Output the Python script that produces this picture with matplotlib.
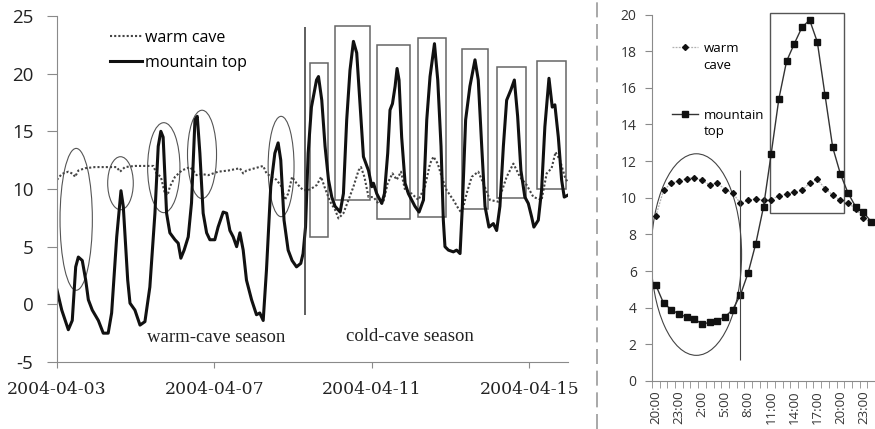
import numpy as np
import matplotlib
matplotlib.use("Agg")
import matplotlib.pyplot as plt
from matplotlib.patches import Ellipse, Rectangle
from matplotlib.lines import Line2D

plt.rcParams["axes.unicode_minus"] = False

# ---- left panel: hourly record, hours since 2004-04-03 00:00 ----
mt_hours = [0, 2.9, 6.9, 9.3, 11.4, 13.0, 15.4, 17.5, 19.1, 21.5,
            25.2, 28.2, 31.2, 33.3, 36.4, 39.0, 40.4, 43.1, 44.5, 47.5,
            50.6, 53.6, 56.6, 59.7, 61.7, 63.3, 64.7, 66.8, 68.8, 71.9,
            73.9, 75.5, 77.5, 80.0, 82.0, 84.1, 85.5, 87.1, 89.1, 91.2,
            93.2, 96.2, 98.2, 101.3, 103.4, 105.4, 107.4, 109.5, 111.5, 113.5,
            115.5, 118.6, 121.6, 123.6, 125.7, 127.7, 130.3, 132.8, 134.8, 136.4,
            138.4, 140.9, 143.3, 146.0, 148.6, 150.0, 151.5, 153.1, 155.1, 158.2,
            159.4, 161.4, 163.4, 165.5, 167.5, 169.5, 172.6, 174.6, 176.6, 178.6,
            180.7, 182.7, 184.7, 186.8, 189.9, 191.9, 192.9, 194.9, 196.9, 198.0,
            199.6, 201.6, 203.0, 204.5, 206.1, 207.3, 208.5, 210.1, 212.2, 214.2,
            216.2, 218.2, 220.7, 223.4, 225.4, 227.4, 230.1, 232.1, 234.1, 235.5,
            236.5, 238.6, 241.6, 243.6, 245.7, 247.1, 249.1, 251.7, 254.8, 256.8,
            258.9, 260.9, 263.3, 266.0, 268.0, 270.0, 272.1, 274.1, 276.7, 278.8,
            280.8, 282.8, 285.2, 287.3, 289.3, 290.7, 293.4, 295.4, 297.4, 299.9,
            301.9, 303.5, 305.6, 307.6, 309.2, 311.2]
mt_temp = [1.24, -0.5, -2.2, -1.4, 3.25, 4.1, 3.8, 2.1, 0.4, -0.5,
           -1.4, -2.5, -2.5, -0.75, 5.85, 9.85, 8.5, 2.1, 0.1, -0.5,
           -1.8, -1.5, 1.5, 7.9, 13.7, 15.0, 14.5, 7.9, 6.2, 5.6,
           5.3, 4.0, 4.7, 5.85, 8.8, 16.0, 16.3, 13.1, 7.9, 6.2,
           5.6, 5.6, 6.7, 8.0, 7.9, 6.4, 5.85, 5.0, 6.2, 4.7,
           2.1, 0.4, -0.9, -0.75, -1.4, 3.0, 10.2, 13.1, 14.0, 12.5,
           7.3, 4.7, 3.8, 3.25, 3.55, 4.4, 6.7, 13.1, 17.1, 19.45,
           19.75, 17.7, 13.7, 10.8, 9.3, 8.5, 8.0, 9.6, 16.0, 20.3,
           22.8, 21.8, 17.4, 12.8, 11.6, 10.2, 10.5, 9.6, 9.05, 8.75,
           9.6, 13.1, 16.85, 17.4, 18.9, 20.45, 19.45, 14.5, 10.5, 9.6,
           9.05, 8.5, 8.0, 9.05, 16.0, 19.75, 22.6, 19.45, 13.7, 7.3,
           5.0, 4.7, 4.55, 4.7, 4.4, 8.5, 16.0, 18.9, 21.2, 19.45,
           13.7, 8.5, 6.7, 7.0, 6.4, 8.5, 13.7, 17.7, 18.6, 19.45,
           16.3, 11.6, 9.3, 8.75, 7.6, 6.7, 7.3, 9.9, 15.4, 19.6,
           17.1, 17.3, 14.5, 10.8, 9.3, 9.45]

wc_hours = [0, 2.9, 6.9, 9.9, 11.0, 13.0, 17.1, 23.1, 29.2, 36.4,
            38.4, 41.4, 47.5, 53.6, 58.7, 60.7, 63.3, 65.8, 67.4, 68.8,
            71.9, 76.0, 81.0, 83.0, 85.1, 88.1, 92.2, 98.2, 104.3, 111.5,
            113.5, 115.5, 120.6, 125.7, 127.7, 130.8, 133.8, 136.9, 138.9, 140.9,
            143.3, 146.0, 150.0, 153.1, 155.3, 158.4, 161.0, 163.4, 166.5, 169.5,
            171.6, 174.6, 177.7, 180.7, 183.8, 185.3, 187.4, 189.9, 192.9, 195.9,
            199.0, 201.6, 204.5, 207.1, 209.7, 212.2, 216.2, 220.3, 224.3, 227.4,
            229.5, 232.1, 234.5, 237.5, 241.6, 244.7, 246.7, 249.7, 252.8, 256.8,
            259.9, 263.9, 269.0, 274.1, 278.2, 282.2, 286.3, 290.4, 295.4, 298.5,
            301.5, 303.9, 306.6, 309.6, 311.2]
wc_temp = [10.8, 11.3, 11.5, 11.3, 11.05, 11.6, 11.8, 11.9, 11.9, 11.9,
           11.5, 11.9, 12.0, 12.0, 12.0, 11.35, 11.05, 9.6, 9.45, 10.2,
           11.05, 11.6, 11.9, 11.6, 11.2, 11.3, 11.2, 11.5, 11.6, 11.8,
           11.35, 11.6, 11.8, 12.0, 11.35, 11.05, 10.8, 10.2, 9.05, 9.6,
           11.05, 10.5, 9.9, 9.9, 10.05, 10.35, 11.05, 10.05, 8.9, 8.2,
           7.45, 7.9, 9.05, 10.2, 11.6, 11.9, 11.05, 9.3, 9.3, 8.75,
           8.9, 10.5, 11.35, 10.8, 11.5, 9.9, 9.6, 9.05, 10.2, 12.2,
           12.8, 12.2, 11.05, 9.9, 9.05, 8.3, 7.9, 9.6, 11.05, 11.5,
           10.5, 9.05, 8.9, 11.05, 12.2, 11.05, 10.35, 9.3, 9.05, 11.35,
           11.8, 13.2, 12.5, 11.05, 10.6]

date_ticks = [0, 96, 192, 288]
date_labels = ["2004-04-03", "2004-04-07", "2004-04-11", "2004-04-15"]

# annotations on the left panel (centre x, centre y, width, height)
circles = [(11.7, 7.37, 19.7, 12.3), (38.7, 10.5, 15.6, 4.6),
           (65.1, 11.85, 19.7, 7.8), (88.4, 13.0, 17.7, 7.66),
           (136.6, 11.95, 15.8, 8.7)]
# boxes (x0, x1, y0, y1)
boxes = [(154.1, 165.5, 5.86, 20.9), (169.5, 190.8, 9.04, 24.13),
         (195.3, 215.4, 7.37, 22.5), (220.3, 236.9, 7.6, 23.06),
         (246.7, 262.5, 8.23, 22.1), (268.0, 285.9, 9.19, 20.55),
         (292.4, 310.0, 9.97, 21.1)]
season_split = 151.1

# ---- right panel: one day, hourly ----
hour_labels = ["20:00", "21:00", "22:00", "23:00", "0:00", "1:00", "2:00", "3:00",
               "4:00", "5:00", "6:00", "7:00", "8:00", "9:00", "10:00", "11:00",
               "12:00", "13:00", "14:00", "15:00", "16:00", "17:00", "18:00",
               "19:00", "20:00", "21:00", "22:00", "23:00", "0:00"]
day_warm = [9.0, 10.4, 10.8, 10.9, 11.05, 11.1, 10.95, 10.7, 10.8, 10.45,
            10.25, 9.7, 9.85, 9.95, 9.85, 9.9, 10.1, 10.2, 10.3, 10.4,
            10.8, 11.0, 10.5, 10.15, 9.85, 9.7, 9.4, 8.9, 8.65]
day_mount = [5.23, 4.25, 3.9, 3.65, 3.5, 3.4, 3.1, 3.2, 3.3, 3.5,
             3.9, 4.7, 5.9, 7.5, 9.5, 12.4, 15.4, 17.45, 18.4, 19.3,
             19.7, 18.5, 15.6, 12.75, 11.3, 10.25, 9.5, 9.2, 8.7]

sans = ["Open Sans", "DejaVu Sans"]
grey = "#8a8a8a"

fig = plt.figure(figsize=(8.75, 4.29), dpi=100)

# ================= left panel =================
ax = fig.add_axes([57 / 875, 1 - 362 / 429, 511 / 875, 346 / 429])
ax.plot(wc_hours, wc_temp, color="#444444", lw=1.5, ls=(0, (1, 1)), label="warm cave")
ax.plot(mt_hours, mt_temp, color="#111111", lw=2.2, label="mountain top")

for cx, cy, w, h in circles:
    ax.add_patch(Ellipse((cx, cy), w, h, fill=False, ec="#555555", lw=0.8))
for x0, x1, y0, y1 in boxes:
    ax.add_patch(Rectangle((x0, y0), x1 - x0, y1 - y0, fill=False, ec="#666666", lw=1.1))
ax.vlines(season_split, -0.93, 24.07, color="#333333", lw=1.1)

ax.text(97.3, -2.85, "warm-cave season", family="Liberation Serif", fontsize=13.5,
        ha="center", va="center", color="#222222")
ax.text(215.3, -2.75, "cold-cave season", family="Liberation Serif", fontsize=13.5,
        ha="center", va="center", color="#222222")

ax.set_xlim(0, 311.5)
ax.set_ylim(-5, 25)
ax.set_yticks(range(-5, 26, 5))
ax.set_xticks(date_ticks)
ax.set_xticklabels(date_labels, family="DejaVu Serif", fontsize=12.4, color="#222222")
for t in ax.get_yticklabels():
    t.set_family(sans)
    t.set_fontsize(13.5)
    t.set_color("#222222")
ax.tick_params(axis="y", length=7, color=grey, pad=10)
ax.tick_params(axis="x", length=4, color=grey, pad=10)
for s in ["top", "right"]:
    ax.spines[s].set_visible(False)
for s in ["left", "bottom"]:
    ax.spines[s].set_color(grey)
ax.legend(loc="upper left", bbox_to_anchor=(0.104, 0.96), frameon=False,
          borderpad=0, borderaxespad=0, handlelength=2.0, handletextpad=0.2,
          labelspacing=0.55, prop={"family": sans, "size": 11.5})

# separator between the panels
fig.add_artist(Line2D([597 / 875, 597 / 875], [0, 1], transform=fig.transFigure,
                      color="#9a9a9a", lw=1.2, ls=(0, (9, 4))))

# ================= right panel =================
ax2 = fig.add_axes([652 / 875, 1 - 381 / 429, 223 / 875, 366.5 / 429])
xs = np.arange(len(hour_labels))
l_w, = ax2.plot(xs, day_warm, color="#b0b0b0", lw=0.9, ls=(0, (1.5, 1)),
                marker="D", ms=3.0, mfc="#111111", mec="#111111")
l_m, = ax2.plot(xs, day_mount, color="#333333", lw=1.0,
                marker="s", ms=4.6, mfc="#111111", mec="#111111")
ax2.add_patch(Ellipse((5.27, 6.9), 11.76, 11.0, fill=False, ec="#444444", lw=0.8))
ax2.add_patch(Rectangle((14.9, 9.15), 9.6, 10.95, fill=False, ec="#555555",
                        lw=1.0, clip_on=False))
ax2.vlines(11.0, 1.15, 11.5, color="#444444", lw=0.8)

ax2.set_xlim(-0.5, len(hour_labels) - 0.5)
ax2.set_ylim(0, 20)
ax2.set_yticks(range(0, 21, 2))
ax2.set_xticks(xs[::3])
ax2.set_xticklabels(hour_labels[::3], rotation=90, family=sans, fontsize=9.5,
                    color="#333333")
ax2.set_xticks(np.arange(-0.5, len(hour_labels), 1), minor=True)
ax2.tick_params(axis="x", which="major", length=0, pad=7)
ax2.tick_params(axis="x", which="minor", length=5, color=grey)
for t in ax2.get_yticklabels():
    t.set_family(sans)
    t.set_fontsize(10)
    t.set_color("#333333")
ax2.tick_params(axis="y", length=5, color=grey, pad=6)
for s in ["top", "right"]:
    ax2.spines[s].set_visible(False)
for s in ["left", "bottom"]:
    ax2.spines[s].set_color(grey)

blank = Line2D([], [], ls="none")
ax2.legend([l_w, blank, blank, blank, l_m, blank],
           ["warm", "cave", " ", " ", "mountain", "top"],
           loc="upper left", bbox_to_anchor=(0.09, 0.925), frameon=False,
           borderpad=0, borderaxespad=0, handlelength=2.0, handletextpad=0.4,
           labelspacing=0.28, prop={"family": sans, "size": 9.5})

fig.savefig("out.png", dpi=100)
